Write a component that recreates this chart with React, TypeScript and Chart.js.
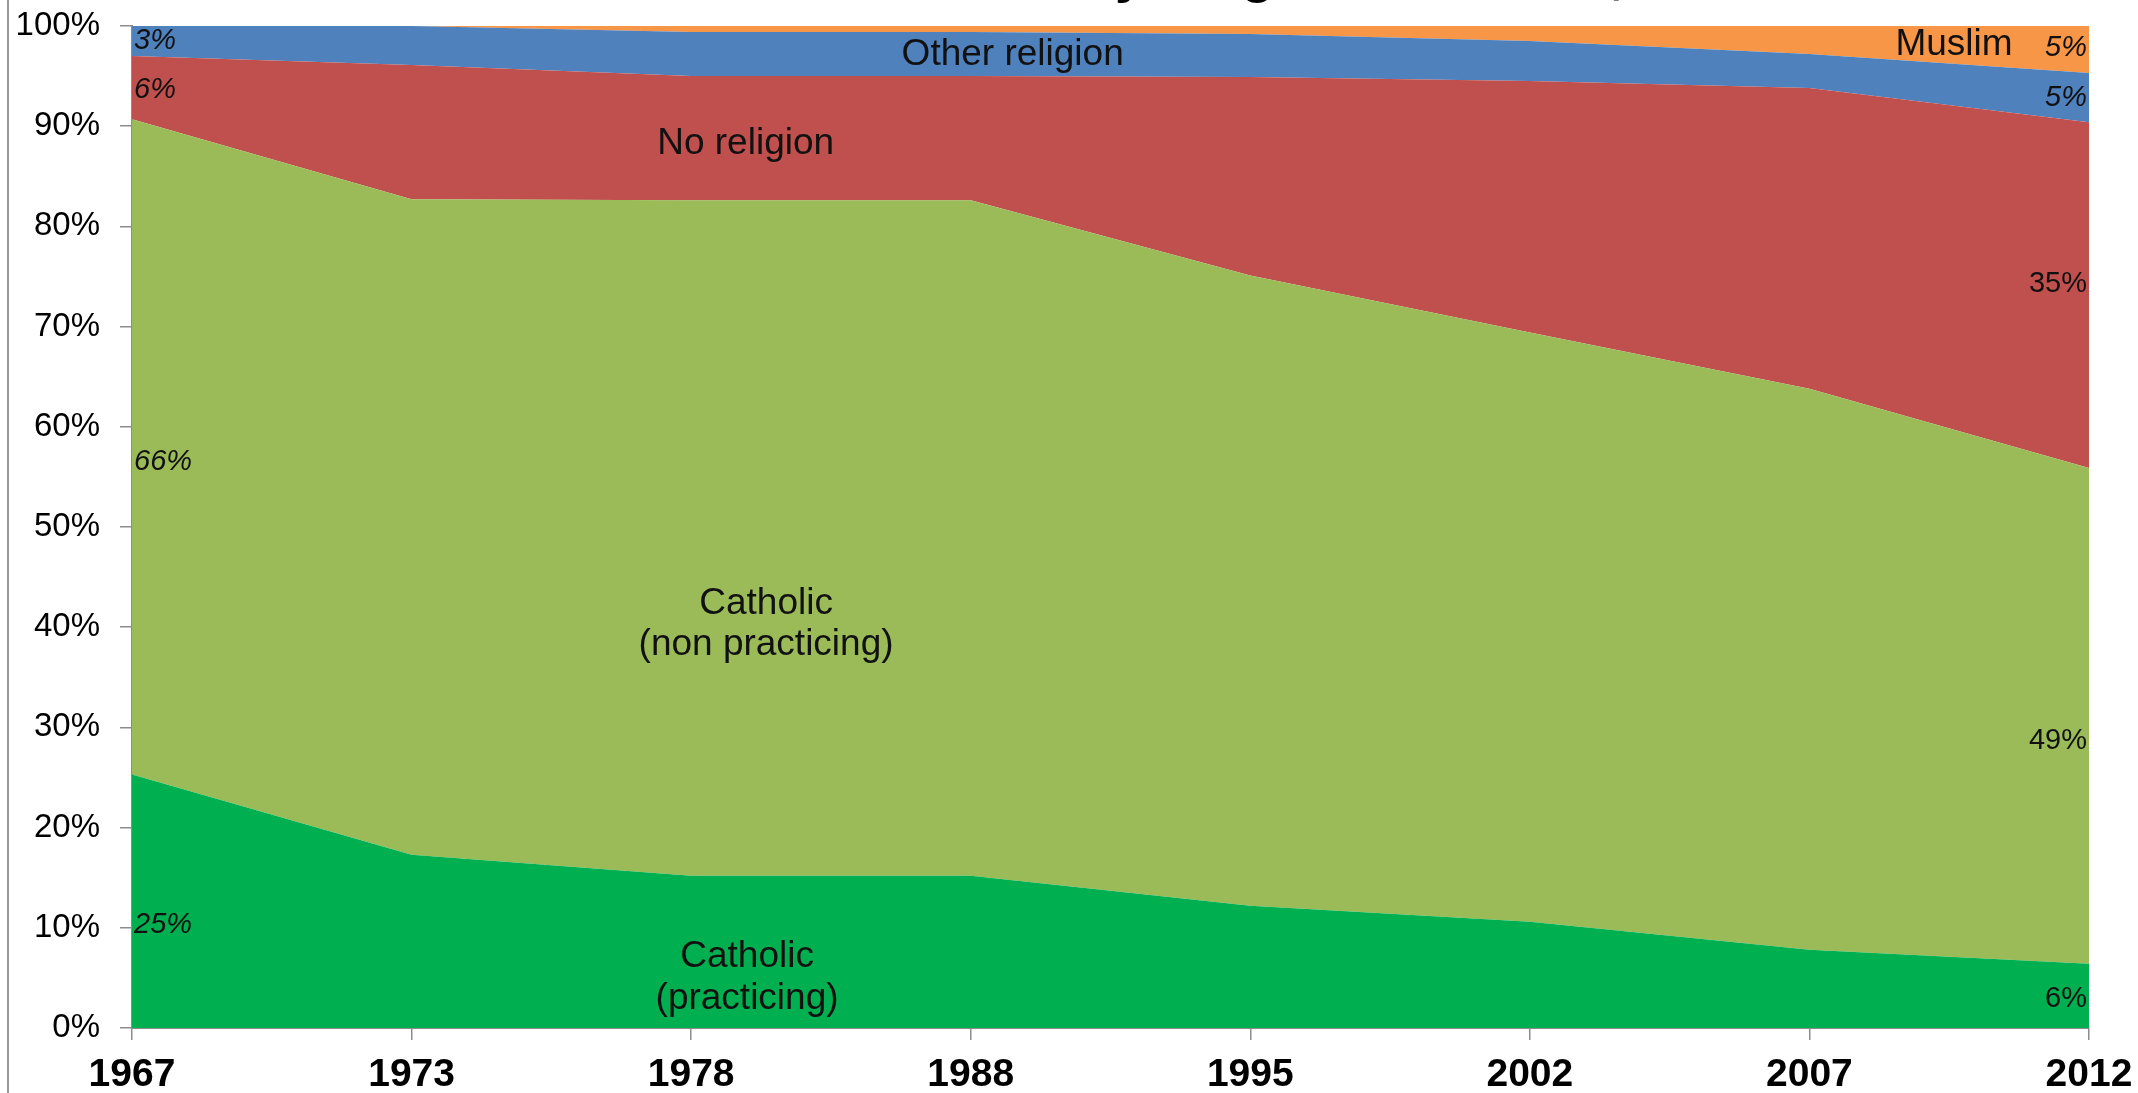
import React, { useEffect, useRef } from "react";
import { Chart, registerables } from "chart.js";

Chart.register(...registerables);

const years = ["1967", "1973", "1978", "1988", "1995", "2002", "2007", "2012"];
const practicing = [25.3, 17.3, 15.2, 15.2, 12.2, 10.6, 7.8, 6.4];
const nonPracticing = [65.4, 65.4, 67.4, 67.4, 62.9, 58.8, 56.0, 49.5];
const noReligion = [6.3, 13.4, 12.4, 12.4, 19.8, 25.1, 30.0, 34.5];
const otherReligion = [3.0, 3.9, 4.4, 4.4, 4.3, 4.0, 3.4, 4.9];
const muslim = [0, 0, 0.6, 0.6, 0.8, 1.5, 2.8, 4.7];
const yTicks = [0, 10, 20, 30, 40, 50, 60, 70, 80, 90, 100];

const titleText = "Share of adults by religion in France, 1967-2012";

type Note = { text: string; x: number; y: number; align: CanvasTextAlign; italic?: boolean; size: number; dx?: number };

const notes: Note[] = [
  { text: "3%", x: 0, y: 98.5, align: "left", italic: true, size: 29, dx: 2 },
  { text: "6%", x: 0, y: 93.6, align: "left", italic: true, size: 29, dx: 2 },
  { text: "66%", x: 0, y: 56.5, align: "left", italic: true, size: 29, dx: 2 },
  { text: "25%", x: 0, y: 10.3, align: "left", italic: true, size: 29, dx: 2 },
  { text: "5%", x: 7, y: 97.8, align: "right", italic: true, size: 29, dx: -2 },
  { text: "5%", x: 7, y: 92.8, align: "right", italic: true, size: 29, dx: -2 },
  { text: "35%", x: 7, y: 74.3, align: "right", size: 29, dx: -2 },
  { text: "49%", x: 7, y: 28.6, align: "right", size: 29, dx: -2 },
  { text: "6%", x: 7, y: 2.9, align: "right", size: 29, dx: -2 },
  { text: "Muslim", x: 6.517, y: 98.1, align: "center", size: 37 },
  { text: "Other religion", x: 3.15, y: 97.1, align: "center", size: 37 },
  { text: "No religion", x: 2.195, y: 88.2, align: "center", size: 37 },
  { text: "Catholic", x: 2.268, y: 42.3, align: "center", size: 37 },
  { text: "(non practicing)", x: 2.268, y: 38.2, align: "center", size: 37 },
  { text: "Catholic", x: 2.2, y: 7.1, align: "center", size: 37 },
  { text: "(practicing)", x: 2.2, y: 2.9, align: "center", size: 37 },
];

const notesPlugin = {
  id: "notes",
  beforeDraw(chart: any) {
    const ctx = chart.ctx;
    ctx.save();
    ctx.strokeStyle = "#9a9a9a";
    ctx.lineWidth = 2;
    ctx.beginPath();
    ctx.moveTo(8, 0);
    ctx.lineTo(8, chart.height);
    ctx.stroke();
    ctx.font = "bold 54px 'Liberation Sans', Arial, sans-serif";
    ctx.fillStyle = "#000";
    ctx.textAlign = "left";
    ctx.textBaseline = "alphabetic";
    const prefix = "Share of adults b";
    const x0 = 1130 - ctx.measureText(prefix).width - ctx.measureText("y").width / 2;
    ctx.fillText(titleText, x0, -8);
    ctx.restore();
  },
  afterDatasetsDraw(chart: any) {
    const ctx = chart.ctx;
    const xs = chart.scales.x;
    const ys = chart.scales.y;
    ctx.save();
    ctx.fillStyle = "#111";
    ctx.textBaseline = "middle";
    for (const n of notes) {
      ctx.font = `${n.italic ? "italic " : ""}${n.size}px 'Liberation Sans', Arial, sans-serif`;
      ctx.textAlign = n.align;
      ctx.fillText(n.text, xs.getPixelForValue(n.x) + (n.dx || 0), ys.getPixelForValue(n.y));
    }
    ctx.restore();
  },
};

export default function App() {
  const ref = useRef<HTMLCanvasElement | null>(null);
  useEffect(() => {
    document.body.style.margin = "0";
    const ds = (label: string, data: number[], color: string, fill: any) => ({
      label,
      data,
      backgroundColor: color,
      borderColor: color,
      borderWidth: 0,
      pointRadius: 0,
      tension: 0,
      fill,
    });
    const chart = new Chart(ref.current as HTMLCanvasElement, {
      type: "line",
      data: {
        labels: years,
        datasets: [
          ds("Catholic (practicing)", practicing, "#00B050", "origin"),
          ds("Catholic (non practicing)", nonPracticing, "#9BBB59", "-1"),
          ds("No religion", noReligion, "#C0504D", "-1"),
          ds("Other religion", otherReligion, "#4F81BD", "-1"),
          ds("Muslim", muslim, "#F79646", "-1"),
        ],
      },
      options: {
        animation: false,
        responsive: false,
        maintainAspectRatio: false,
        layout: { padding: { left: 0, right: 49, top: 26, bottom: 0 } },
        plugins: { legend: { display: false }, tooltip: { enabled: false }, title: { display: false } },
        scales: {
          x: {
            type: "category",
            offset: false,
            grid: { display: true, drawOnChartArea: false, drawTicks: true, tickLength: 12, color: "#8c8c8c", lineWidth: 1.5 },
            border: { display: true, color: "#8c8c8c", width: 2 },
            ticks: {
              color: "#000",
              font: { family: "'Liberation Sans', Arial, sans-serif", size: 39, weight: "bold" },
              padding: 12,
              maxRotation: 0,
              autoSkip: false,
            },
            afterFit: (s: any) => {
              s.height = 65;
              s.paddingLeft = 0;
              s.paddingRight = 0;
            },
          },
          y: {
            stacked: true,
            min: 0,
            max: 100,
            grid: { display: true, drawOnChartArea: false, drawTicks: true, tickLength: 12, color: "#8c8c8c", lineWidth: 1.5 },
            border: { display: true, color: "#8c8c8c", width: 2 },
            afterBuildTicks: (s: any) => {
              s.ticks = yTicks.map((v) => ({ value: v }));
            },
            ticks: {
              color: "#000",
              font: { family: "'Liberation Sans', Arial, sans-serif", size: 33 },
              padding: 20,
              callback: (v: any) => `${v}%`,
            },
            afterFit: (s: any) => {
              s.width = 132;
              s.paddingTop = 0;
              s.paddingBottom = 0;
            },
          },
        },
      },
      plugins: [notesPlugin],
    } as any);
    return () => chart.destroy();
  }, []);
  return (
    <div style={{ width: 2138, height: 1093, position: "relative", background: "#fff" }}>
      <canvas ref={ref} width={2138} height={1093} style={{ display: "block", width: 2138, height: 1093 }} />
    </div>
  );
}
